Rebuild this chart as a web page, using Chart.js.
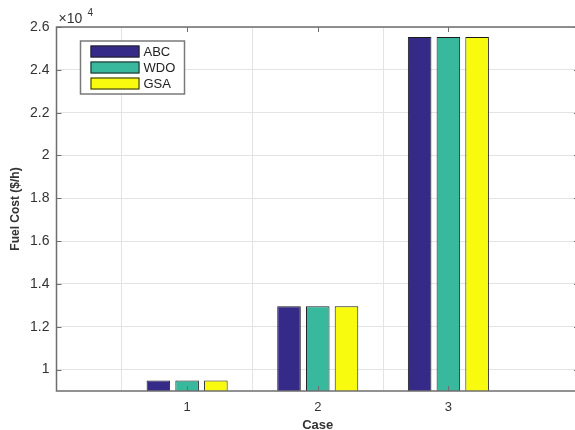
<!DOCTYPE html>
<html>
<head>
<meta charset="utf-8">
<script src="https://cdn.jsdelivr.net/npm/chart.js@4/dist/chart.umd.min.js"></script>
<style>
  html, body { margin: 0; padding: 0; background: #fff; overflow: hidden; }
</style>
</head>
<body>
<canvas id="fuelChart" width="579" height="430"></canvas>
<script>
// Data
const cases = ['1', '2', '3'];
const abcCost = [9490, 12960, 25530];
const wdoCost = [9490, 12960, 25530];
const gsaCost = [9490, 12960, 25530];
const yTicks = [10000, 12000, 14000, 16000, 18000, 20000, 22000, 24000, 26000];

const frameColor = '#6e6e6e';
const gridColor = '#e3e3e3';
const textColor = '#333333';

// pad with empty slots so the axis runs from 0 to 4 like the matlab plot
const labels = [''].concat(cases, ['']);
function pad(arr) { return [null].concat(arr, [null]); }

// frame, inward tick marks and the x10^4 exponent
const framePlugin = {
    id: 'frame',
    afterDatasetsDraw(chart) {
        const { ctx, chartArea: a, scales } = chart;
        ctx.save();
        ctx.strokeStyle = frameColor;
        ctx.lineWidth = 1.5;
        ctx.strokeRect(a.left, a.top, a.right - a.left, a.bottom - a.top);
        ctx.lineWidth = 1;
        ctx.beginPath();
        yTicks.forEach(v => {
            const y = Math.round(scales.y.getPixelForValue(v)) + 0.5;
            ctx.moveTo(a.left, y); ctx.lineTo(a.left + 5, y);
            ctx.moveTo(a.right, y); ctx.lineTo(a.right - 5, y);
        });
        cases.forEach((c, i) => {
            const x = Math.round(scales.x.getPixelForValue(i + 1)) + 0.5;
            ctx.moveTo(x, a.bottom); ctx.lineTo(x, a.bottom - 5);
            ctx.moveTo(x, a.top); ctx.lineTo(x, a.top + 5);
        });
        ctx.stroke();

        ctx.fillStyle = textColor;
        ctx.textBaseline = 'alphabetic';
        ctx.textAlign = 'left';
        ctx.font = '14px "Liberation Sans", Arial, sans-serif';
        ctx.fillText('\u00d710', a.left + 2, a.top - 4);
        ctx.font = '10px "Liberation Sans", Arial, sans-serif';
        ctx.fillText('4', a.left + 31, a.top - 11);
        ctx.restore();
    }
};

// boxed legend in the upper left corner
const legendPlugin = {
    id: 'boxLegend',
    afterDraw(chart) {
        const { ctx, chartArea: a } = chart;
        const x0 = a.left + 24, y0 = a.top + 14;
        ctx.save();
        ctx.fillStyle = '#fff';
        ctx.fillRect(x0, y0, 104, 53);
        ctx.strokeStyle = '#7a7a7a';
        ctx.lineWidth = 1.5;
        ctx.strokeRect(x0, y0, 104, 53);
        ctx.font = '13px "Liberation Sans", Arial, sans-serif';
        ctx.textBaseline = 'middle';
        chart.data.datasets.forEach((ds, i) => {
            const cy = y0 + 10.5 + i * 16;
            ctx.fillStyle = ds.backgroundColor;
            ctx.fillRect(x0 + 10, cy - 6, 49, 12);
            ctx.strokeStyle = '#222';
            ctx.lineWidth = 1;
            ctx.strokeRect(x0 + 10.5, cy - 5.5, 48, 11);
            ctx.fillStyle = '#222';
            ctx.fillText(ds.label, x0 + 63, cy + 0.5);
        });
        ctx.restore();
    }
};

new Chart(document.getElementById('fuelChart'), {
    type: 'bar',
    data: {
        labels: labels,
        datasets: [
            { label: 'ABC', data: pad(abcCost), backgroundColor: '#352a87', borderColor: '#1a1a1a', borderWidth: 1 },
            { label: 'WDO', data: pad(wdoCost), backgroundColor: '#38b99e', borderColor: '#1a1a1a', borderWidth: 1 },
            { label: 'GSA', data: pad(gsaCost), backgroundColor: '#f9fb0e', borderColor: '#1a1a1a', borderWidth: 1 }
        ]
    },
    options: {
        responsive: false,
        animation: false,
        categoryPercentage: 0.66,
        barPercentage: 0.82,
        layout: { padding: { top: 27, right: 0, left: 0, bottom: 0 } },
        plugins: {
            legend: { display: false },
            tooltip: { enabled: false }
        },
        scales: {
            x: {
                offset: false,
                grid: {
                    drawTicks: false,
                    color: ctx => (ctx.index === 0 || ctx.index === labels.length - 1) ? 'rgba(0,0,0,0)' : gridColor
                },
                border: { display: false },
                ticks: {
                    padding: 9,
                    color: textColor,
                    font: { family: '"Liberation Sans", Arial, sans-serif', size: 13 }
                },
                title: {
                    display: true,
                    text: 'Case',
                    color: textColor,
                    padding: { top: 0, bottom: -3 },
                    font: { family: '"Liberation Sans", Arial, sans-serif', size: 13, weight: 'bold' }
                },
                afterFit(scale) {
                    scale.height = 39;
                    scale.paddingLeft = 0;
                    scale.paddingRight = 0;
                }
            },
            y: {
                min: 9000,
                max: 26000,
                afterBuildTicks(scale) { scale.ticks = yTicks.map(v => ({ value: v })); },
                grid: { drawTicks: false, color: gridColor },
                border: { display: false },
                ticks: {
                    padding: 7,
                    color: textColor,
                    font: { family: '"Liberation Sans", Arial, sans-serif', size: 14 },
                    callback: v => String(v / 10000)
                },
                title: {
                    display: true,
                    text: 'Fuel Cost ($/h)',
                    color: textColor,
                    padding: { top: 8, bottom: 0 },
                    font: { family: '"Liberation Sans", Arial, sans-serif', size: 12, weight: 'bold' }
                },
                afterFit(scale) { scale.width = 56.5; }
            }
        }
    },
    plugins: [framePlugin, legendPlugin]
});
</script>
</body>
</html>
